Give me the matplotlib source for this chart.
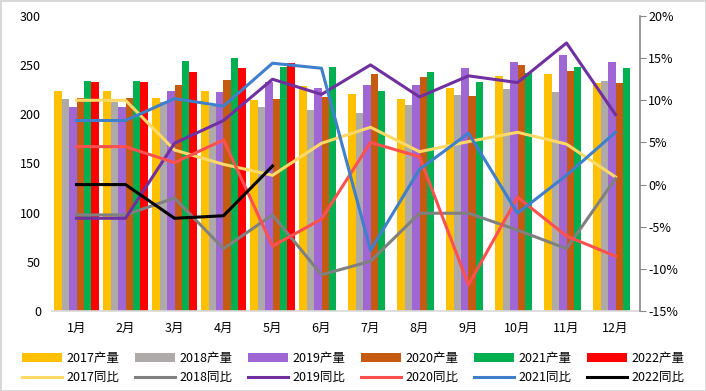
import numpy as np
import matplotlib
matplotlib.use("Agg")
import matplotlib.pyplot as plt
from matplotlib.ticker import FuncFormatter

plt.rcParams['font.family'] = ['Noto Sans CJK JP', 'DejaVu Sans']

# months
months = [f"{i}月" for i in range(1, 13)]

# production (left axis)
prod_2017 = [224, 224, 217, 224, 215, 229, 221, 216, 227, 239, 241, 232]
prod_2018 = [216, 213, 213, 208, 207, 204, 201, 209, 220, 226, 223, 234]
prod_2019 = [207, 207, 224, 223, 233, 227, 230, 230, 247, 253, 260, 253]
prod_2020 = [217, 217, 230, 235, 216, 218, 241, 238, 219, 250, 244, 232]
prod_2021 = [234, 234, 254, 257, 248, 248, 224, 243, 233, 242, 248, 247]
prod_2022 = [233, 233, 243, 247, 252]

# year-on-year (right axis, %)
yoy_2017 = [10.0, 10.0, 4.1, 2.4, 1.1, 4.9, 6.8, 3.9, 5.1, 6.2, 4.8, 0.9]
yoy_2018 = [-3.6, -3.6, -1.6, -7.6, -3.6, -10.7, -9.1, -3.4, -3.4, -5.4, -7.6, 0.7]
yoy_2019 = [-4.0, -4.0, 4.9, 7.6, 12.5, 10.7, 14.2, 10.4, 12.9, 12.1, 16.8, 8.3]
yoy_2020 = [4.5, 4.5, 2.6, 5.3, -7.3, -4.1, 5.0, 3.3, -11.9, -1.5, -6.1, -8.5]
yoy_2021 = [7.6, 7.6, 10.2, 9.3, 14.4, 13.8, -7.8, 1.8, 6.1, -3.4, 1.1, 6.2]
yoy_2022 = [0.0, 0.0, -4.0, -3.7, 2.2]

years = ["2017", "2018", "2019", "2020", "2021", "2022"]
prods = [prod_2017, prod_2018, prod_2019, prod_2020, prod_2021, prod_2022]
yoys = [yoy_2017, yoy_2018, yoy_2019, yoy_2020, yoy_2021, yoy_2022]
bar_colors = ["#FFC000", "#AEAAAA", "#A066D3", "#C55A11", "#00B050", "#FF0000"]
line_colors = ["#FFD966", "#808080", "#7030A0", "#FF5050", "#3F7FCB", "#000000"]

fig = plt.figure(figsize=(7.06, 3.91), dpi=100)
fig.patch.set_edgecolor("#D9D9D9")
fig.patch.set_linewidth(2)
ax = fig.add_axes([52 / 706, 1 - 311 / 391, 588 / 706, 295 / 391])
ax2 = ax.twinx()

x = np.arange(len(months))
w = 0.15
handles = []
for i, (yr, vals) in enumerate(zip(years, prods)):
    xs = x[:len(vals)] - 0.45 + w * (i + 0.5)
    b = ax.bar(xs, vals, width=w, color=bar_colors[i], label=f"{yr}产量", zorder=2)
    handles.append(b)
    ln, = ax2.plot(x[:len(yoys[i])], yoys[i], color=line_colors[i], lw=2.2,
                   label=f"{yr}同比", zorder=3)
    handles.append(ln)

ax.set_xlim(-0.5, 11.5)
ax.set_ylim(0, 300)
ax.set_yticks(range(0, 301, 50))
ax.set_xticks(x)
ax.set_xticklabels(months)
for s in ["top", "right", "left"]:
    ax.spines[s].set_visible(False)
ax.spines["bottom"].set_color("#D9D9D9")
ax.spines["bottom"].set_linewidth(1.2)
ax.tick_params(axis="both", length=0, labelsize=9, colors="black")
ax.tick_params(axis="y", pad=8)
ax.tick_params(axis="x", pad=8)

ax2.set_ylim(-15, 20)
ax2.set_yticks(range(-15, 21, 5))
ax2.yaxis.set_major_formatter(FuncFormatter(lambda v, p: f"{int(v)}%"))
for s in ["top", "left", "bottom"]:
    ax2.spines[s].set_visible(False)
ax2.spines["right"].set_color("#868686")
ax2.spines["right"].set_linewidth(1.2)
ax2.tick_params(axis="y", direction="out", length=4, color="#868686", labelsize=9, pad=2)

fig.legend(handles=handles, loc="lower center", ncol=6, bbox_to_anchor=(0.5, -0.012),
           frameon=False, fontsize=9, handlelength=3.2, handletextpad=0.35,
           columnspacing=1.25, labelspacing=0.55)

fig.savefig("out.png", dpi=100)
